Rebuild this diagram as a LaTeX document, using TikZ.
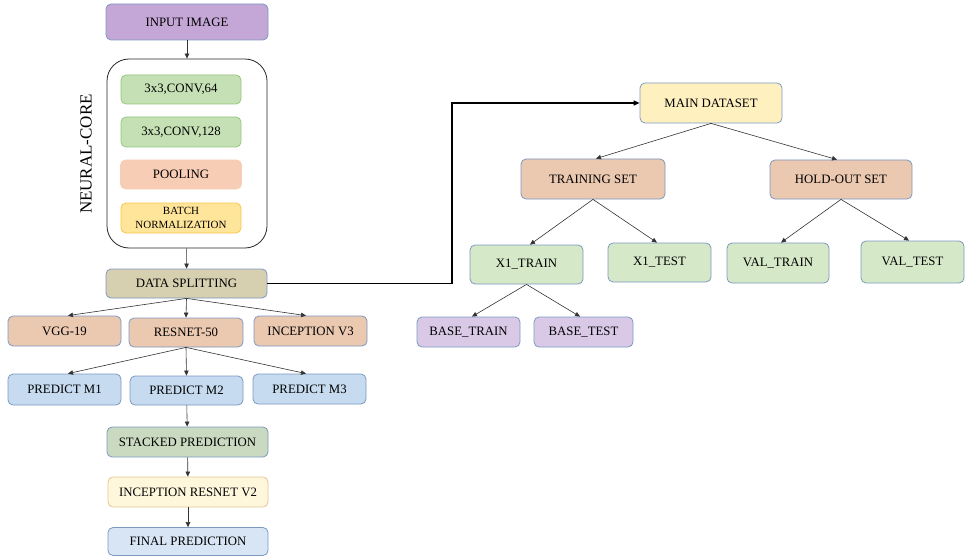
\documentclass[tikz,border=0pt]{standalone}
\usepackage{fontspec}
\setmainfont{Liberation Serif}
\usetikzlibrary{arrows.meta,positioning,calc}
\definecolor{bblue}{HTML}{7C99C0}
\definecolor{cpurple}{HTML}{C4A7D7}
\definecolor{cgreen}{HTML}{C5E0B4}
\definecolor{bgreen}{HTML}{97C77E}
\definecolor{cpeach}{HTML}{F8CDB6}
\definecolor{cyellow}{HTML}{FFE599}
\definecolor{byellow}{HTML}{F7C54A}
\definecolor{ckhaki}{HTML}{D6CFB0}
\definecolor{csalmon}{HTML}{EBC8B0}
\definecolor{cblue}{HTML}{C6DBEF}
\definecolor{csage}{HTML}{CADAC0}
\definecolor{ccream}{HTML}{FFF7DC}
\definecolor{bcream}{HTML}{E3C58E}
\definecolor{clblue}{HTML}{D7E5F5}
\definecolor{cmain}{HTML}{FFF0C0}
\definecolor{clgreen}{HTML}{D5E8C8}
\definecolor{clav}{HTML}{D9C9E6}
\tikzset{
  box/.style={draw=bblue, line width=0.8pt, rounded corners=5pt, align=center,
    inner sep=0pt, font=\fontsize{12.8}{14}\selectfont, text=black},
  arr/.style={-{Triangle[length=5pt,width=4.5pt]}, line width=0.6pt, draw=black!80},
  link/.style={-{Triangle[length=6pt,width=5pt]}, line width=1.3pt, draw=black},
}
\begin{document}
\begin{tikzpicture}[x=1pt,y=-1pt]
\useasboundingbox (0,0) rectangle (965,556);
% left column
\node[box, fill=cpurple, minimum width=162, minimum height=36] (input) at (187,22) {INPUT IMAGE};
\node[draw=black!85, line width=0.8pt, rounded corners=22pt, minimum width=160, minimum height=189, inner sep=0pt] (core) at (187,153.5) {};
\node[rotate=90, font=\fontsize{17}{20}\selectfont] (corelbl) at (86,154) {NEURAL-CORE};
\node[box, draw=bgreen, fill=cgreen, minimum width=120, minimum height=29] (c64) at (181,89.5) {3x3,CONV,64};
\node[box, draw=bgreen, fill=cgreen, minimum width=120, minimum height=30] (c128) at (181,132) {3x3,CONV,128};
\node[box, draw=cpeach, fill=cpeach, minimum width=121, minimum height=29] (pool) at (181,174.5) {POOLING};
\node[box, draw=byellow, fill=cyellow, minimum width=120, minimum height=30, font=\fontsize{11}{13.5}\selectfont] (bn) at (181,218) {BATCH\\NORMALIZATION};
\node[box, fill=ckhaki, minimum width=161, minimum height=29] (ds) at (186.5,283.5) {DATA SPLITTING};
\node[box, fill=csalmon, minimum width=113, minimum height=30] (vgg) at (64.5,331) {VGG-19};
\node[box, fill=csalmon, minimum width=114, minimum height=29] (res) at (186,332.5) {RESNET-50};
\node[box, fill=csalmon, minimum width=113, minimum height=30] (inc) at (310.5,331) {INCEPTION V3};
\node[box, fill=cblue, minimum width=113, minimum height=31] (m1) at (64.5,389.5) {PREDICT M1};
\node[box, fill=cblue, minimum width=113, minimum height=29] (m2) at (186.5,390.5) {PREDICT M2};
\node[box, fill=cblue, minimum width=113, minimum height=30] (m3) at (309.5,389) {PREDICT M3};
\node[box, fill=csage, minimum width=161, minimum height=30] (stk) at (187.5,442) {STACKED PREDICTION};
\node[box, draw=bcream, fill=ccream, minimum width=160, minimum height=30] (irv) at (188,492) {INCEPTION RESNET V2};
\node[box, fill=clblue, minimum width=160, minimum height=28] (fin) at (188,541.5) {FINAL PREDICTION};
% right tree
\node[box, fill=cmain, minimum width=142, minimum height=40] (main) at (711,103) {MAIN DATASET};
\node[box, fill=csalmon, minimum width=144, minimum height=40] (train) at (593,179) {TRAINING SET};
\node[box, fill=csalmon, minimum width=142, minimum height=39] (hold) at (841,179.5) {HOLD-OUT SET};
\node[box, fill=clgreen, minimum width=113, minimum height=39] (x1tr) at (526.5,264.5) {X1\_TRAIN};
\node[box, fill=clgreen, minimum width=103, minimum height=39] (x1te) at (659.5,262.5) {X1\_TEST};
\node[box, fill=clgreen, minimum width=102, minimum height=40] (vtr) at (778,263) {VAL\_TRAIN};
\node[box, fill=clgreen, minimum width=103, minimum height=42] (vte) at (912.5,262) {VAL\_TEST};
\node[box, fill=clav, minimum width=103, minimum height=30] (btr) at (468.5,332) {BASE\_TRAIN};
\node[box, fill=clav, minimum width=99, minimum height=30] (bte) at (583.5,332) {BASE\_TEST};
\coordinate (bend1) at (452,283.5);
\coordinate (bend2) at (452,103);
% connectors
\draw[arr] (input) -- (core);
\draw[arr] (core) -- (ds);
\draw[arr] (ds.south) -- ([xshift=3.5pt]vgg.north);
\draw[arr] (ds.south) -- (res.north);
\draw[arr] (ds.south) -- ([xshift=-4.5pt]inc.north);
\draw[arr] (res.south) -- ([xshift=3.5pt]m1.north);
\draw[arr] (res.south) -- (m2.north);
\draw[arr] (res.south) -- ([xshift=-3.5pt]m3.north);
\draw[arr] (m2) -- (stk);
\draw[arr] (stk) -- (irv);
\draw[arr] (irv) -- (fin);
\draw[link] (ds.east) -- (bend1) -- (bend2) -- (main.west);
\draw[arr] (main.south) -- ([xshift=3pt]train.north);
\draw[arr] (main.south) -- ([xshift=-4pt]hold.north);
\draw[arr] (train.south) -- ([xshift=3.5pt]x1tr.north);
\draw[arr] (train.south) -- ([xshift=-2.5pt]x1te.north);
\draw[arr] (hold.south) -- ([xshift=3pt]vtr.north);
\draw[arr] (hold.south) -- ([xshift=-3.5pt]vte.north);
\draw[arr] (x1tr.south) -- ([xshift=3.5pt]btr.north);
\draw[arr] (x1tr.south) -- ([xshift=-3.5pt]bte.north);
\end{tikzpicture}
\end{document}
